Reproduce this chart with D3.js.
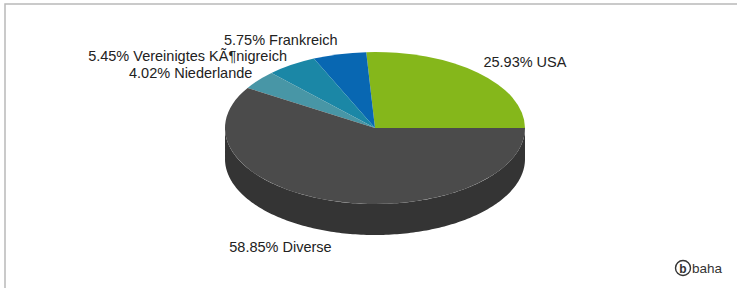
<!DOCTYPE html>
<html>
<head>
<meta charset="utf-8">
<script src="https://cdn.jsdelivr.net/npm/d3@7"></script>
<style>
  body { margin: 0; background: #fff; }
  svg { display: block; }
  text { font-family: "Liberation Sans", Arial, sans-serif; font-size: 14.5px; fill: #222; }
</style>
</head>
<body>
<div id="chart"></div>
<script>
// slice data, in drawing order (counterclockwise from 3 o'clock)
const countries = ["USA", "Frankreich", "Vereinigtes KÃ¶nigreich", "Niederlande", "Diverse"];
const shares = [25.93, 5.75, 5.45, 4.02, 58.85];
const colors = ["#85b71b", "#0867b2", "#1b87a6", "#4896a6", "#4b4b4b"];
const sideColor = "#343434";

const width = 737, height = 288;
const cx = 375, cy = 128, rx = 150, ry = 76, depth = 31;

const svg = d3.select("#chart").append("svg")
    .attr("width", width)
    .attr("height", height);

// frame
svg.append("rect")
    .attr("x", 5).attr("y", 4)
    .attr("width", width + 10).attr("height", height + 10)
    .attr("fill", "none")
    .attr("stroke", "#b9b9b9")
    .attr("stroke-width", 1.5);

const data = countries.map((c, i) => ({ name: c, value: shares[i], color: colors[i] }));

// d3 angles run clockwise from 12 o'clock; start at 3 o'clock and go counterclockwise
const pie = d3.pie().sort(null).value(d => d.value)
    .startAngle(Math.PI / 2).endAngle(Math.PI / 2 - 2 * Math.PI);
const arcs = pie(data);

// point on the ellipse for a d3 angle
const px = a => cx + rx * Math.sin(a);
const py = a => cy - ry * Math.cos(a);

const g = svg.append("g");

// side walls: only the part of each slice below the centre line is visible
arcs.forEach(d => {
  const pts = d3.range(0, 201).map(k => d.startAngle + (d.endAngle - d.startAngle) * k / 200)
      .filter(a => Math.cos(a) <= 1e-9);
  if (pts.length < 2) return;
  const top = pts.map(a => [px(a), py(a)]);
  const bottom = pts.slice().reverse().map(a => [px(a), py(a) + depth]);
  g.append("path")
      .attr("d", d3.line()(top.concat(bottom)) + "Z")
      .attr("fill", d.index === 4 ? sideColor : d3.color(d.data.color).darker(0.9));
});

// top face: circle arcs squashed into an ellipse
const arcGen = d3.arc().innerRadius(0).outerRadius(rx);
g.append("g")
    .attr("transform", `translate(${cx},${cy}) scale(1,${ry / rx})`)
    .selectAll("path")
    .data(arcs)
    .join("path")
    .attr("d", arcGen)
    .attr("fill", d => d.data.color);

// labels
const padX = 8, padY = 15, minGap = 16.5;
const labels = arcs.map(d => {
  const mid = (d.startAngle + d.endAngle) / 2;
  const s = Math.sin(mid), c = Math.cos(mid);
  return {
    text: d3.format(".2f")(d.data.value) + "% " + d.data.name,
    x: cx + (rx + padX) * s,
    y: cy - (ry + padY) * c + (c < 0 ? depth : 0),
    anchor: s >= 0 ? "start" : "end"
  };
});

// keep labels on the same side from overlapping
["start", "end"].forEach(side => {
  const list = labels.filter(l => l.anchor === side).sort((a, b) => a.y - b.y);
  for (let i = 1; i < list.length; i++) {
    if (list[i].y - list[i - 1].y < minGap) list[i].y = list[i - 1].y + minGap;
  }
});

svg.append("g").selectAll("text")
    .data(labels)
    .join("text")
    .attr("x", d => d.x)
    .attr("y", d => d.y)
    .attr("dy", "0.35em")
    .attr("text-anchor", d => d.anchor)
    .text(d => d.text);

// logo
const logo = svg.append("g").attr("transform", "translate(683,268)");
logo.append("circle").attr("r", 7.5).attr("fill", "none").attr("stroke", "#333").attr("stroke-width", 1.4);
logo.append("text").attr("x", 0).attr("y", 4.5).attr("text-anchor", "middle")
    .style("font-size", "12px").style("font-weight", "bold").style("fill", "#333").text("b");
logo.append("text").attr("x", 9).attr("y", 4.5)
    .style("font-size", "13.5px").style("fill", "#333").text("baha");
</script>
</body>
</html>
